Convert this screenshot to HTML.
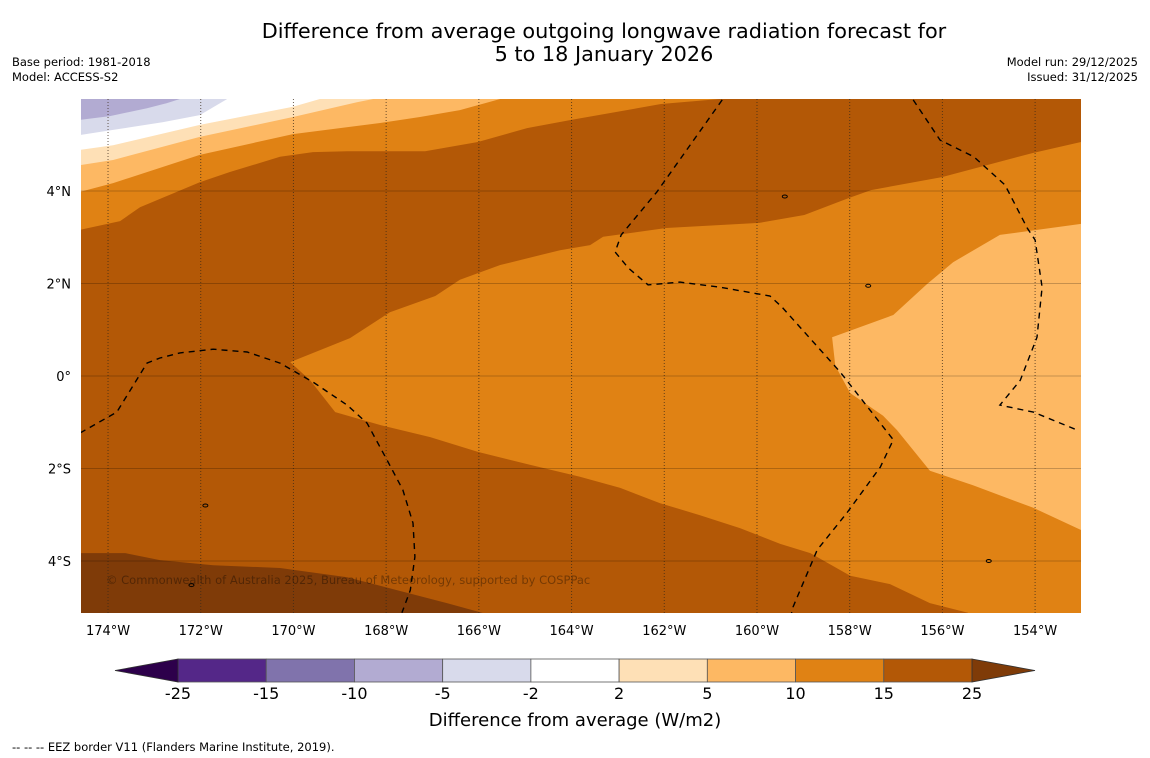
<!DOCTYPE html>
<html><head><meta charset="utf-8">
<style>
html,body{margin:0;padding:0;background:#fff;}
body{width:1150px;height:758px;position:relative;overflow:hidden;font-family:"DejaVu Sans","Liberation Sans",sans-serif;}
svg{position:absolute;left:0;top:0;font-family:"DejaVu Sans","Liberation Sans",sans-serif;}
</style></head>
<body>
<svg id="fig" width="1150" height="758" viewBox="0 0 1150 758" xmlns="http://www.w3.org/2000/svg">
<text x="604" y="38" text-anchor="middle" font-size="20.8" fill="#000">Difference from average outgoing longwave radiation forecast for</text>
<text x="604" y="61" text-anchor="middle" font-size="20.8" fill="#000">5 to 18 January 2026</text>
<text x="12" y="66" font-size="11.5">Base period: 1981-2018</text>
<text x="12" y="81" font-size="11.5">Model: ACCESS-S2</text>
<text x="1138" y="66" font-size="11.5" text-anchor="end">Model run: 29/12/2025</text>
<text x="1138" y="81" font-size="11.5" text-anchor="end">Issued: 31/12/2025</text>
<defs><clipPath id="mapclip"><rect x="81" y="99" width="1000" height="514"/></clipPath></defs>
<g id="map" clip-path="url(#mapclip)"></g>
<g id="axes"></g>
<g id="cbar"></g>
<text x="575" y="726" text-anchor="middle" font-size="18">Difference from average (W/m2)</text>
<text x="12" y="751" font-size="11.5">--  --  -- EEZ border V11 (Flanders Marine Institute, 2019).</text>
</svg>
<script>
// axis extents (degrees)
const lonMin = -174.583, lonMax = -153.01, latMin = -5.124, latMax = 5.989;
const lonTicks = [-174,-172,-170,-168,-166,-164,-162,-160,-158,-156,-154];
const lonTickLabels = ["174°W","172°W","170°W","168°W","166°W","164°W","162°W","160°W","158°W","156°W","154°W"];
const latTicks = [4,2,0,-2,-4];
const latTickLabels = ["4°N","2°N","0°","2°S","4°S"];
// contour level boundaries and colours
const cbarLevels = [-25,-15,-10,-5,-2,2,5,10,15,25];
const cbarColors = ["#542788","#8073ac","#b2abd2","#d8daeb","#ffffff","#fee0b6","#fdb863","#e08214","#b35806"];
const cbarUnder = "#2d004b", cbarOver = "#7f3b08";
// filled contour boundaries [lon, lat]
const bandOrangeTopLeft = [[-174.60,3.16],[-173.74,3.35],[-173.31,3.65],[-172.02,4.19],[-171.37,4.41],[-170.29,4.74],[-169.58,4.84],[-168.84,4.86],[-167.16,4.86],[-166.02,5.06],[-164.96,5.36],[-163.99,5.54],[-162.07,5.88],[-160.80,5.99],[-160.80,7],[-175,7],[-175,3.16]];
const bandLightOrangeTopLeft = [[-174.60,3.98],[-173.89,4.17],[-172.02,4.78],[-170.01,5.23],[-168.13,5.47],[-167.27,5.60],[-166.41,5.75],[-165.54,5.99],[-165.54,7],[-175,7],[-175,3.98]];
const bandPeachTopLeft = [[-174.60,4.56],[-173.89,4.67],[-172.02,5.17],[-170.01,5.60],[-168.63,5.92],[-168.28,5.99],[-168.28,7],[-175,7],[-175,4.56]];
const bandWhiteTopLeft = [[-174.60,4.89],[-173.89,4.99],[-172.02,5.43],[-170.01,5.82],[-169.43,5.99],[-169.43,7],[-175,7],[-175,4.89]];
const bandLavenderTopLeft = [[-174.60,5.21],[-173.89,5.32],[-172.81,5.49],[-172.02,5.64],[-171.43,5.99],[-171.43,7],[-175,7],[-175,5.21]];
const bandPurpleTopLeft = [[-174.60,5.54],[-173.96,5.62],[-173.16,5.79],[-172.73,5.90],[-172.45,5.99],[-172.45,7],[-175,7],[-175,5.54]];
const bandOrangeCentre = [[-170.07,0.30],[-168.78,0.82],[-167.92,1.38],[-166.94,1.73],[-166.41,2.08],[-165.54,2.40],[-164.25,2.72],[-163.60,2.83],[-163.32,3.01],[-161.96,3.20],[-159.95,3.31],[-158.98,3.48],[-158.01,3.85],[-157.54,4.02],[-156.01,4.30],[-154.06,4.82],[-153.01,5.06],[-152.5,5.06],[-152.5,-5.5],[-155.25,-5.5],[-155.25,-5.28],[-155.45,-5.12],[-156.27,-4.91],[-157.13,-4.50],[-157.99,-4.32],[-158.85,-3.83],[-159.50,-3.63],[-160.36,-3.29],[-161.23,-3.01],[-162.09,-2.75],[-162.95,-2.42],[-163.82,-2.18],[-164.90,-1.92],[-166.02,-1.64],[-167.05,-1.32],[-168.13,-1.06],[-169.10,-0.78],[-169.64,-0.09]];
const bandLightOrangeRight = [[-152.99,3.29],[-154.76,3.05],[-155.77,2.46],[-156.33,1.99],[-157.06,1.32],[-158.38,0.84],[-158.31,0.22],[-157.99,-0.37],[-157.28,-0.86],[-156.98,-1.17],[-156.27,-2.05],[-155.34,-2.36],[-154.04,-2.85],[-153.01,-3.33],[-152.5,-3.33],[-152.5,3.29]];
const bandDarkestBottomLeft = [[-174.58,-3.83],[-173.63,-3.83],[-172.88,-3.98],[-171.73,-4.09],[-170.29,-4.15],[-168.84,-4.35],[-167.76,-4.63],[-166.69,-4.91],[-165.82,-5.15],[-165.82,-6],[-175,-6],[-175,-3.83]];
// EEZ borders
const eezWest = [[-174.60,-1.23],[-173.81,-0.78],[-173.16,0.28],[-172.88,0.39],[-172.45,0.50],[-171.73,0.58],[-171.00,0.52],[-170.29,0.28],[-169.58,-0.13],[-168.84,-0.63],[-168.41,-1.02],[-167.98,-1.82],[-167.64,-2.46],[-167.42,-3.18],[-167.38,-3.91],[-167.48,-4.63],[-167.66,-5.12]];
const eezCentre = [[-160.75,5.97],[-162.16,3.98],[-162.93,3.05],[-163.06,2.68],[-162.78,2.34],[-162.35,1.97],[-161.66,2.03],[-160.80,1.92],[-159.72,1.73],[-159.46,1.49],[-158.21,0.09],[-157.06,-1.38],[-157.34,-1.97],[-158.06,-2.96],[-158.70,-3.76],[-159.22,-4.99],[-159.26,-5.15]];
const eezEast = [[-156.63,5.97],[-156.05,5.10],[-155.32,4.74],[-154.65,4.13],[-154.17,3.20],[-154.00,2.94],[-153.85,1.92],[-153.96,0.84],[-154.32,-0.09],[-154.76,-0.63],[-154.04,-0.78],[-153.09,-1.17]];

const X0=81, X1=1081, Y0=99, Y1=613;
function xs(lon){return X0+(lon-lonMin)/(lonMax-lonMin)*(X1-X0);}
function ys(lat){return Y0+(latMax-lat)/(latMax-latMin)*(Y1-Y0);}
const NS="http://www.w3.org/2000/svg";
function mk(tag,attrs,parent){const e=document.createElementNS(NS,tag);for(const k in attrs)e.setAttribute(k,attrs[k]);parent.appendChild(e);return e;}
function pts(arr){return arr.map(p=>xs(p[0]).toFixed(1)+","+ys(p[1]).toFixed(1)).join(" ");}

const map=document.getElementById("map");
const base=mk("rect",{x:X0,y:Y0,width:X1-X0,height:Y1-Y0,fill:cbarColors[8]},map);


const layers=[
 [bandOrangeTopLeft,cbarColors[7],'contour-10-15-northwest'],
 [bandLightOrangeTopLeft,cbarColors[6],'contour-5-10-northwest'],
 [bandPeachTopLeft,cbarColors[5],'contour-2-5-northwest'],
 [bandWhiteTopLeft,cbarColors[4],'contour-neutral-northwest'],
 [bandLavenderTopLeft,cbarColors[3],'contour-minus5-minus2-northwest'],
 [bandPurpleTopLeft,cbarColors[2],'contour-minus10-minus5-northwest'],
 [bandOrangeCentre,cbarColors[7],'contour-10-15-centre'],
 [bandLightOrangeRight,cbarColors[6],'contour-5-10-east'],
 [bandDarkestBottomLeft,cbarOver,'contour-above-25-southwest']
];
layers.forEach(l=>{
 const p=mk("polygon",{points:pts(l[0]),fill:l[1]},map);
 
 
});
lonTicks.forEach(v=>{
 const g=mk("line",{x1:xs(v),x2:xs(v),y1:Y0,y2:Y1,stroke:"#3a2a1a","stroke-width":1,"stroke-dasharray":"1,2","stroke-opacity":0.75},map);
 
 
});
latTicks.forEach(v=>{
 const g=mk("line",{x1:X0,x2:X1,y1:ys(v),y2:ys(v),stroke:"#000","stroke-width":1,"stroke-opacity":0.22},map);
 
 
});
[[eezWest,'eez-border-west'],[eezCentre,'eez-border-centre'],[eezEast,'eez-border-east']].forEach(e=>{
 const l=mk("polyline",{points:pts(e[0]),fill:"none",stroke:"#000","stroke-width":1.4,"stroke-dasharray":"6,5"},map);
 
 
});
[[-171.9,-2.80],[-172.2,-4.52],[-159.4,3.88],[-157.6,1.95],[-155.0,-4.0]].forEach(p=>{
 const c=mk("ellipse",{cx:xs(p[0]),cy:ys(p[1]),rx:2.5,ry:1.5,fill:"none",stroke:"#000","stroke-width":1},map);
 
 
});
const cp=mk("text",{x:106,y:584,"font-size":11.5,fill:"#000","fill-opacity":0.35},map);
cp.textContent="© Commonwealth of Australia 2025, Bureau of Meteorology, supported by COSPPac";



const axes=document.getElementById("axes");
lonTicks.forEach((v,i)=>{
 const t=mk("text",{x:xs(v),y:635,"text-anchor":"middle","font-size":13},axes);
 t.textContent=lonTickLabels[i];
 
 
});
latTicks.forEach((v,i)=>{
 const t=mk("text",{x:71,y:ys(v)+5,"text-anchor":"end","font-size":13},axes);
 t.textContent=latTickLabels[i];
 
 
});

const cb=document.getElementById("cbar");
const CB0=178, CB1=972, CBy=659, CBh=23;
const segW=(CB1-CB0)/cbarColors.length;
cbarColors.forEach((c,i)=>{
 const r=mk("rect",{x:CB0+i*segW,y:CBy,width:segW,height:CBh,fill:c,stroke:"#555","stroke-width":0.8},cb);
 
 
});
const tl=mk("polygon",{points:`${CB0},${CBy} 115,${CBy+CBh/2} ${CB0},${CBy+CBh}`,fill:cbarUnder,stroke:"#333","stroke-width":0.8},cb);


const tr=mk("polygon",{points:`${CB1},${CBy} 1035,${CBy+CBh/2} ${CB1},${CBy+CBh}`,fill:cbarOver,stroke:"#333","stroke-width":0.8},cb);


cbarLevels.forEach((v,i)=>{
 const t=mk("text",{x:CB0+i*segW,y:699,"text-anchor":"middle","font-size":16},cb);
 t.textContent=String(v);
 
 
});
</script>
</body></html>
